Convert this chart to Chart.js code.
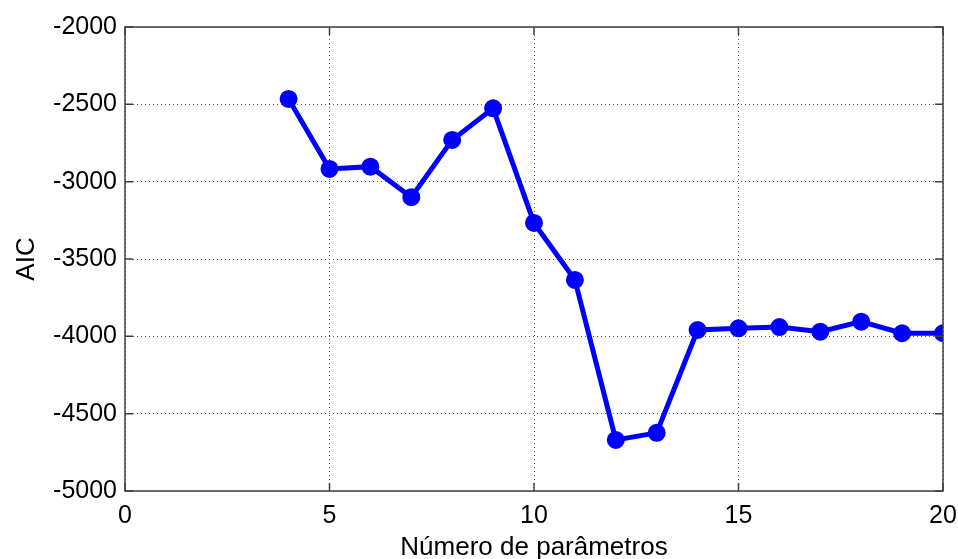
<!DOCTYPE html>
<html>
<head>
<meta charset="utf-8">
<script src="https://cdn.jsdelivr.net/npm/chart.js@4/dist/chart.umd.min.js"></script>
<style>
  html, body { margin: 0; padding: 0; background: #fff; }
  #wrap { width: 958px; height: 559px; }
</style>
</head>
<body>
<div id="wrap"><canvas id="grafAIC"></canvas></div>
<script>
// datos
const numParametros = [4, 5, 6, 7, 8, 9, 10, 11, 12, 13, 14, 15, 16, 17, 18, 19, 20];
const valoresAIC = [-2465, -2918, -2903, -3100, -2730, -2526, -3267, -3635, -4670, -4624, -3959, -3948, -3940, -3970, -3905, -3980, -3980];
const ticksX = [0, 5, 10, 15, 20];
const ticksY = [-5000, -4500, -4000, -3500, -3000, -2500, -2000];

const fuente = "'Liberation Sans', Arial, sans-serif";

// caja y marcas hacia adentro (estilo matlab)
const marcoPlugin = {
  id: 'marco',
  afterDraw(chart) {
    const ctx = chart.ctx;
    const a = chart.chartArea;
    const sx = chart.scales.x, sy = chart.scales.y;
    ctx.save();
    ctx.strokeStyle = '#404040';
    ctx.lineWidth = 1.5;
    ctx.strokeRect(a.left, a.top, a.right - a.left, a.bottom - a.top);
    ctx.beginPath();
    ticksX.forEach(v => {
      const px = sx.getPixelForValue(v);
      ctx.moveTo(px, a.bottom); ctx.lineTo(px, a.bottom - 8);
      ctx.moveTo(px, a.top); ctx.lineTo(px, a.top + 8);
    });
    ticksY.forEach(v => {
      const py = sy.getPixelForValue(v);
      ctx.moveTo(a.left, py); ctx.lineTo(a.left + 8, py);
      ctx.moveTo(a.right, py); ctx.lineTo(a.right - 8, py);
    });
    ctx.stroke();
    ctx.restore();
  }
};

const ctx = document.getElementById('grafAIC');
new Chart(ctx, {
  type: 'line',
  data: {
    datasets: [{
      data: numParametros.map((n, i) => ({ x: n, y: valoresAIC[i] })),
      borderColor: '#0000ff',
      backgroundColor: '#0000ff',
      borderWidth: 5,
      pointRadius: 6.5,
      pointStyle: 'circle',
      tension: 0
    }]
  },
  options: {
    responsive: true,
    maintainAspectRatio: false,
    animation: false,
    layout: { padding: { top: 27, right: 15, left: 0, bottom: 0 } },
    plugins: { legend: { display: false }, tooltip: { enabled: false } },
    scales: {
      x: {
        type: 'linear',
        min: 0, max: 20,
        afterBuildTicks: s => { s.ticks = ticksX.map(v => ({ value: v })); },
        afterFit: s => { s.height = 68; s.paddingLeft = 0; s.paddingRight = 0; },
        ticks: { color: '#000', font: { family: fuente, size: 25 }, padding: 10, maxRotation: 0, callback: v => String(v) },
        grid: { color: '#555', drawTicks: false },
        border: { display: false, dash: [1, 3] },
        title: { display: true, text: 'Número de parâmetros', color: '#000', font: { family: fuente, size: 26 }, padding: { top: 0, bottom: -4 } }
      },
      y: {
        type: 'linear',
        min: -5000, max: -2000,
        afterBuildTicks: s => { s.ticks = ticksY.map(v => ({ value: v })); },
        afterFit: s => { s.width = 125; s.paddingTop = 0; s.paddingBottom = 0; },
        ticks: { color: '#000', font: { family: fuente, size: 25 }, padding: 8, callback: v => String(v) },
        grid: { color: '#555', drawTicks: false },
        border: { display: false, dash: [1, 3] },
        title: { display: true, text: 'AIC', color: '#000', font: { family: fuente, size: 26 }, padding: { top: 11, bottom: 0 } }
      }
    }
  },
  plugins: [marcoPlugin]
});
</script>
</body>
</html>
